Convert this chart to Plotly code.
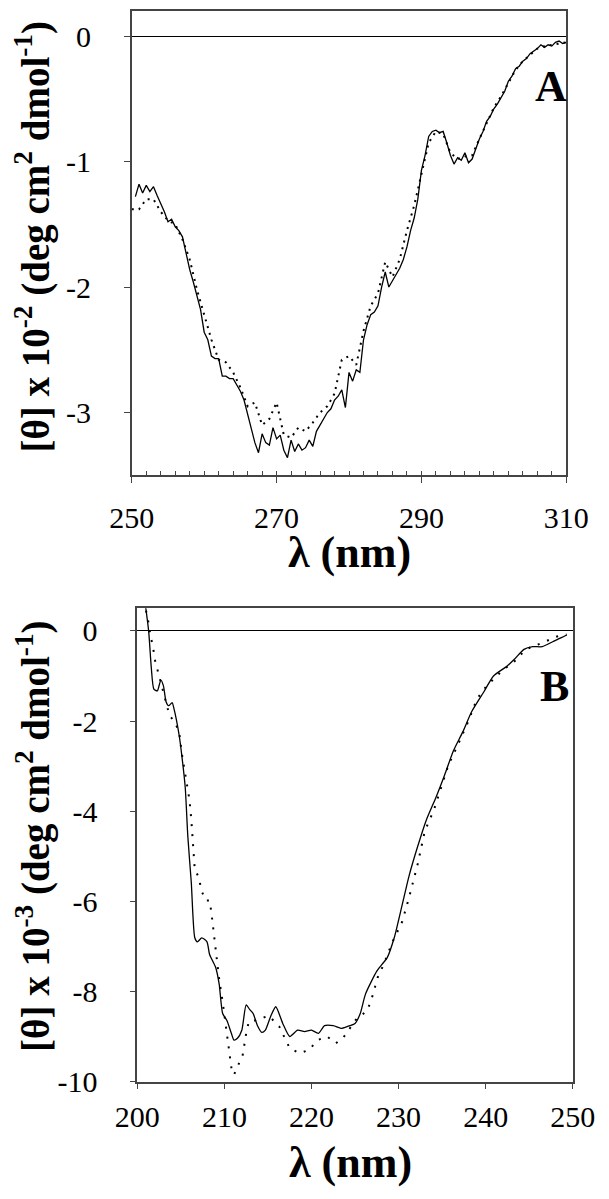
import plotly.graph_objects as go

W, H = 609, 1199

# ---- panel A (near-UV CD) ----
wl_a = [250.5, 251.0, 251.5, 252.0, 252.5, 253.0, 253.5, 254.0, 254.5, 255.0,
        255.5, 256.0, 256.5, 257.0, 257.5, 258.0, 258.5, 259.0, 259.5, 260.0,
        260.5, 261.0, 261.5, 262.0, 262.5, 263.0, 263.5, 264.0, 264.5, 265.0,
        265.5, 266.0, 266.5, 267.0, 267.5, 268.0, 268.5, 269.0, 269.5, 270.0,
        270.5, 271.0, 271.5, 272.0, 272.5, 273.0, 273.5, 274.0, 274.5, 275.0,
        275.5, 276.0, 276.5, 277.0, 277.5, 278.0, 278.5, 279.0, 279.5, 280.0,
        280.5, 281.0, 281.5, 282.0, 282.5, 283.0, 283.5, 284.0, 284.5, 285.0,
        285.5, 286.0, 286.5, 287.0, 287.5, 288.0, 288.5, 289.0, 289.5, 290.0,
        290.5, 291.0, 291.5, 292.0, 292.5, 293.0, 293.5, 294.0, 294.5, 295.0,
        295.5, 296.0, 296.5, 297.0, 297.5, 298.0, 298.5, 299.0, 299.5, 300.0,
        300.5, 301.0, 301.5, 302.0, 302.5, 303.0, 303.5, 304.0, 304.5, 305.0,
        305.5, 306.0, 306.5, 307.0, 307.5, 308.0, 308.5, 309.0, 309.5, 310.0]
solid_a = [-1.28, -1.18, -1.25, -1.19, -1.24, -1.20, -1.27, -1.33, -1.40, -1.48,
           -1.46, -1.52, -1.55, -1.60, -1.74, -1.86, -1.96, -2.07, -2.18, -2.36,
           -2.42, -2.55, -2.57, -2.57, -2.71, -2.71, -2.73, -2.73, -2.78, -2.83,
           -2.90, -3.02, -3.12, -3.24, -3.32, -3.17, -3.24, -3.26, -3.12, -3.21,
           -3.18, -3.30, -3.36, -3.22, -3.31, -3.25, -3.30, -3.28, -3.22, -3.27,
           -3.15, -3.10, -3.05, -3.00, -2.97, -2.90, -2.87, -2.82, -2.96, -2.68,
           -2.75, -2.66, -2.68, -2.42, -2.30, -2.22, -2.20, -2.15, -2.00, -1.88,
           -2.00, -1.95, -1.90, -1.85, -1.78, -1.68, -1.55, -1.45, -1.30, -1.07,
           -0.95, -0.80, -0.76, -0.75, -0.77, -0.76, -0.85, -0.95, -1.02, -0.97,
           -0.99, -0.93, -1.01, -0.98, -0.90, -0.82, -0.76, -0.68, -0.64, -0.58,
           -0.54, -0.49, -0.44, -0.36, -0.32, -0.26, -0.24, -0.20, -0.18, -0.14,
           -0.12, -0.10, -0.07, -0.09, -0.07, -0.08, -0.05, -0.04, -0.06, -0.05]

wl_a_dot = list(range(250, 311))
dot_a = [-1.38, -1.38, -1.30, -1.30, -1.40, -1.47, -1.50, -1.62, -1.78, -2.02,
         -2.22, -2.42, -2.58, -2.60, -2.68, -2.80, -2.95, -2.92, -3.10, -3.05,
         -2.92, -3.18, -3.20, -3.12, -3.15, -3.08, -3.00, -2.95, -2.85, -2.58,
         -2.55, -2.62, -2.35, -2.15, -2.05, -1.80, -1.92, -1.78, -1.55, -1.35,
         -1.10, -0.85, -0.76, -0.78, -0.93, -0.98, -0.96, -0.95, -0.82, -0.70,
         -0.57, -0.48, -0.38, -0.27, -0.20, -0.15, -0.10, -0.08, -0.07, -0.06,
         -0.05]
yticks_a = [0, -1, -2, -3]
xticks_a = [250, 270, 290, 310]

# ---- panel B (far-UV CD) ----
wl_b = [200.7, 201.3, 201.6, 201.9, 202.3, 202.7, 203.0, 203.3, 203.6, 204.0,
        204.2, 204.8, 205.1, 205.5, 205.8, 206.2, 206.6, 206.9, 207.4, 208.0,
        208.3, 209.0, 209.4, 209.8, 210.3, 210.8, 211.1, 211.5, 212.0, 212.5,
        212.9, 213.3, 213.8, 214.3, 214.7, 215.3, 215.9, 216.7, 217.5, 218.4,
        219.2, 220.0, 220.8, 221.5, 222.5, 223.4, 224.1, 225.0, 225.6, 226.2,
        227.5, 228.1, 228.7, 229.5, 230.4, 231.2, 232.2, 233.2, 234.3, 235.3,
        236.3, 237.4, 238.4, 239.8, 240.9, 242.4, 243.3, 244.4, 245.4, 246.5,
        247.7, 248.7, 249.3]
solid_b = [0.9, 0.0, -0.8, -1.29, -1.33, -1.09, -1.22, -1.57, -1.66, -1.59,
           -1.72, -2.31, -2.75, -3.47, -4.56, -5.59, -6.81, -6.90, -6.81, -6.90,
           -7.18, -7.47, -7.84, -8.49, -8.65, -8.93, -9.08, -9.04, -8.86, -8.30,
           -8.40, -8.49, -8.76, -8.91, -8.86, -8.56, -8.34, -8.71, -9.00, -8.86,
           -8.89, -8.86, -8.93, -8.76, -8.76, -8.82, -8.78, -8.71, -8.49, -8.06,
           -7.55, -7.40, -7.25, -6.81, -6.09, -5.44, -4.78, -4.19, -3.69, -3.19,
           -2.66, -2.23, -1.79, -1.35, -1.00, -0.79, -0.63, -0.41, -0.35, -0.35,
           -0.24, -0.15, -0.09]

wl_b_dot = [201.0, 201.3, 201.5, 201.8, 202.0, 202.3, 203.0, 203.7, 204.2, 204.8,
            205.1, 205.6, 206.0, 206.2, 206.4, 206.6, 207.1, 207.3, 207.8, 208.3,
            208.5, 208.8, 209.1, 209.4, 209.8, 210.1, 210.5, 210.8, 211.1, 211.6,
            212.1, 212.5, 212.8, 213.4, 214.2, 215.1, 216.3, 216.9, 217.5, 218.6,
            219.7, 220.7, 221.8, 222.8, 223.6, 225.2, 226.4, 226.9, 227.6, 228.3,
            229.3, 230.4, 231.2, 232.2, 233.0, 234.1, 234.9, 235.7, 236.9, 238.0,
            239.0, 240.0, 241.1, 242.1, 243.3, 244.6, 246.8, 248.1, 249.3]
dot_b = [0.45, 0.17, -0.10, -0.35, -0.63, -0.85, -1.35, -1.88, -1.99, -2.23,
         -2.71, -3.25, -3.76, -4.19, -4.72, -5.30, -5.48, -5.72, -5.98, -5.98,
         -6.24, -6.75, -7.23, -7.73, -8.23, -8.71, -9.21, -9.69, -9.85, -9.63,
         -9.41, -8.93, -8.67, -8.65, -8.60, -8.54, -8.78, -9.04, -9.26, -9.37,
         -9.30, -9.08, -9.00, -9.15, -9.04, -8.60, -8.43, -8.17, -7.69, -7.40,
         -6.90, -6.46, -5.92, -5.17, -4.45, -3.95, -3.47, -2.99, -2.49, -2.01,
         -1.51, -1.25, -1.03, -0.85, -0.68, -0.41, -0.24, -0.13, -0.08]
yticks_b = [0, -2, -4, -6, -8, -10]
xticks_b = [200, 210, 220, 230, 240, 250]

FONT = "Liberation Serif, Times New Roman, serif"


def px_x(p):
    return p / W


def px_y(p):
    return 1 - p / H


def labels(vals):
    # plain hyphen like the original, not the unicode minus
    return [str(v) for v in vals]


fig = go.Figure()
fig.add_trace(go.Scatter(x=wl_a, y=solid_a, mode="lines", xaxis="x", yaxis="y",
                         line=dict(color="black", width=1.3)))
fig.add_trace(go.Scatter(x=wl_a_dot, y=dot_a, mode="lines", xaxis="x", yaxis="y",
                         line=dict(color="black", width=2, dash="2px,5px")))
fig.add_trace(go.Scatter(x=wl_b, y=solid_b, mode="lines", xaxis="x2", yaxis="y2",
                         line=dict(color="black", width=1.3, shape="spline", smoothing=0.6)))
fig.add_trace(go.Scatter(x=wl_b_dot, y=dot_b, mode="lines", xaxis="x2", yaxis="y2",
                         line=dict(color="black", width=2, dash="2px,8px")))

axis_common = dict(
    showgrid=False, showline=True, mirror=True, linecolor="#444", linewidth=1.5,
    ticks="outside", ticklen=6, tickcolor="#444", tickwidth=1.2,
    tickfont=dict(family=FONT, size=30, color="black"),
)

fig.update_layout(
    width=W, height=H, showlegend=False,
    margin=dict(l=0, r=0, t=0, b=0),
    paper_bgcolor="white", plot_bgcolor="white",
    xaxis=dict(axis_common, domain=[px_x(109), px_x(579)], anchor="y",
               range=[250, 310], tickvals=xticks_a, ticktext=labels(xticks_a),
               ticklabelstandoff=9,
               minor=dict(dtick=2, ticks="inside", ticklen=5, tickcolor="#444")),
    yaxis=dict(axis_common, domain=[px_y(474), px_y(3)], anchor="x",
               range=[-3.5, 0.2], tickvals=yticks_a, ticktext=labels(yticks_a),
               ticklabelstandoff=27,
               zeroline=True, zerolinecolor="black", zerolinewidth=1),
    xaxis2=dict(axis_common, domain=[px_x(115), px_x(586)], anchor="y2",
                range=[200, 250], tickvals=xticks_b, ticktext=labels(xticks_b),
                ticklabelstandoff=2),
    yaxis2=dict(axis_common, domain=[px_y(1089), px_y(609)], anchor="x2",
                range=[-10, 0.5], tickvals=yticks_b, ticktext=labels(yticks_b),
                ticklabelstandoff=26,
                zeroline=True, zerolinecolor="black", zerolinewidth=1),
)

sup = "<sup>%s</sup>"
ytitle_a = "<b>[θ] x 10" + sup % "-2" + " (deg cm" + sup % "2" + " dmol" + sup % "-1" + ")</b>"
ytitle_b = "<b>[θ] x 10" + sup % "-3" + " (deg cm" + sup % "2" + " dmol" + sup % "-1" + ")</b>"

annos = [
    dict(text=ytitle_a, x=px_x(2), y=px_y(232), textangle=-90, size=39),
    dict(text=ytitle_b, x=px_x(2), y=px_y(840), textangle=-90, size=39),
    dict(text="<b>λ (nm)</b>", x=px_x(344), y=px_y(552), size=44),
    dict(text="<b>λ (nm)</b>", x=px_x(346), y=px_y(1171), size=44),
    dict(text="<b>A</b>", x=px_x(562), y=px_y(80), size=44),
    dict(text="<b>B</b>", x=px_x(566), y=px_y(688), size=44),
]
for a in annos:
    size = a.pop("size")
    fig.add_annotation(xref="paper", yref="paper", showarrow=False,
                       xanchor="center", yanchor="middle",
                       font=dict(family=FONT, size=size, color="black"), **a)

fig.write_html("out.html")
